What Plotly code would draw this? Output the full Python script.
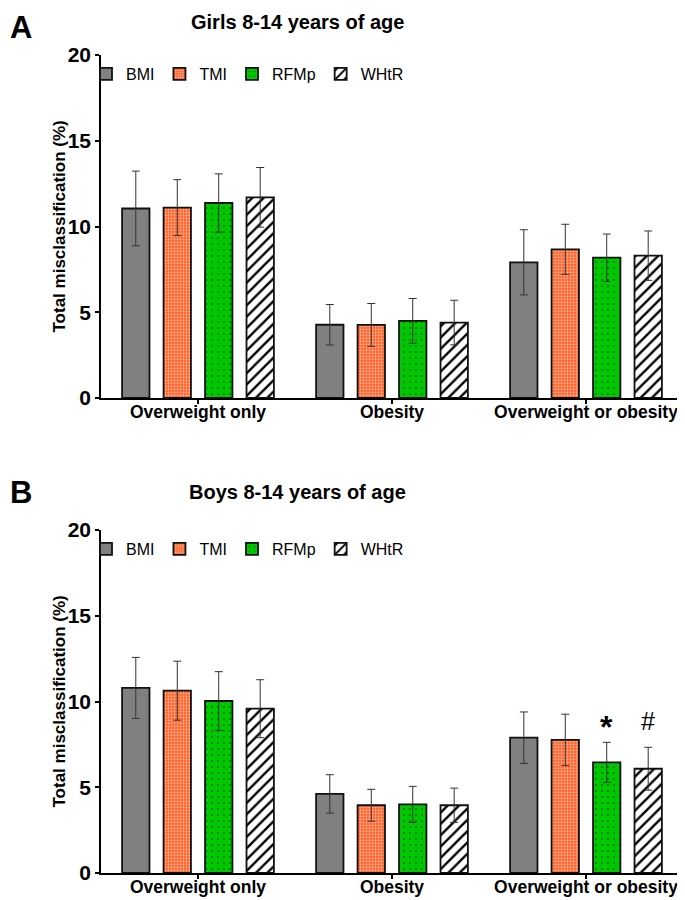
"""Grouped bar charts of total misclassification by index, girls and boys."""

import plotly.graph_objects as go
from plotly.subplots import make_subplots

CATEGORIES = ["Overweight only", "Obesity", "Overweight or obesity"]
SERIES = ["BMI", "TMI", "RFMp", "WHtR"]
Y_TICKS = [0, 5, 10, 15, 20]

# Girls 8-14 years of age
GIRLS_BMI = [11.05, 4.27, 7.91]
GIRLS_TMI = [11.10, 4.26, 8.67]
GIRLS_RFMP = [11.37, 4.50, 8.18]
GIRLS_WHTR = [11.70, 4.40, 8.30]
GIRLS_BMI_ERR = [2.18, 1.18, 1.90]
GIRLS_TMI_ERR = [1.63, 1.25, 1.46]
GIRLS_RFMP_ERR = [1.70, 1.30, 1.38]
GIRLS_WHTR_ERR = [1.74, 1.30, 1.44]

# Boys 8-14 years of age
BOYS_BMI = [10.79, 4.61, 7.89]
BOYS_TMI = [10.63, 3.95, 7.76]
BOYS_RFMP = [10.03, 4.00, 6.45]
BOYS_WHTR = [9.58, 3.95, 6.08]
BOYS_BMI_ERR = [1.78, 1.12, 1.50]
BOYS_TMI_ERR = [1.72, 0.93, 1.50]
BOYS_RFMP_ERR = [1.71, 1.05, 1.17]
BOYS_WHTR_ERR = [1.69, 1.00, 1.25]

FONT = "Liberation Sans, Arial, sans-serif"
OUTLINE = "#111111"

# page body keeps its default 8px margin, so the figure is 8px smaller
W, H, OFF = 677, 892, 8


def px_x(x):
    return max(0, (x - OFF) / W)


def px_y(y):
    return 1 - (y - OFF) / H


STYLES = {
    "BMI": {"color": "#808080", "pattern": {"shape": ""}},
    "TMI": {
        "color": "#ff5a1e",
        "pattern": {"shape": ".", "fgcolor": "white", "bgcolor": "#ff5a1e",
                    "size": 3, "solidity": 0.45},
    },
    "RFMp": {
        "color": "#00c800",
        "pattern": {"shape": ".", "fgcolor": "black", "bgcolor": "#00c800",
                    "size": 6, "solidity": 0.08},
    },
    "WHtR": {
        "color": "white",
        "pattern": {"shape": "/", "fgcolor": "black", "bgcolor": "white",
                    "size": 8, "solidity": 0.3, "fgopacity": 1},
    },
}

panels = [
    {
        "values": [GIRLS_BMI, GIRLS_TMI, GIRLS_RFMP, GIRLS_WHTR],
        "errors": [GIRLS_BMI_ERR, GIRLS_TMI_ERR, GIRLS_RFMP_ERR, GIRLS_WHTR_ERR],
        "legend": "legend",
    },
    {
        "values": [BOYS_BMI, BOYS_TMI, BOYS_RFMP, BOYS_WHTR],
        "errors": [BOYS_BMI_ERR, BOYS_TMI_ERR, BOYS_RFMP_ERR, BOYS_WHTR_ERR],
        "legend": "legend2",
    },
]

fig = make_subplots(rows=2, cols=1)

for row, panel in enumerate(panels, start=1):
    for name, vals, errs in zip(SERIES, panel["values"], panel["errors"]):
        style = STYLES[name]
        fig.add_trace(
            go.Bar(
                name=name,
                x=CATEGORIES,
                y=vals,
                marker={
                    "color": style["color"],
                    "pattern": style["pattern"],
                    "line": {"color": OUTLINE, "width": 1.8},
                },
                error_y={"type": "data", "array": errs, "color": "#333333",
                         "thickness": 1, "width": 4},
                legend=panel["legend"],
                showlegend=True,
            ),
            row=row,
            col=1,
        )

axis_common = {
    "showline": True,
    "linecolor": "black",
    "linewidth": 1.5,
    "ticks": "outside",
    "ticklen": 4,
    "tickwidth": 1.5,
    "tickcolor": "black",
    "showgrid": False,
    "zeroline": False,
    "automargin": False,
}

x_domain = [px_x(101), px_x(683)]
y_domains = [[px_y(398), px_y(55)], [px_y(873), px_y(530)]]

for row in (1, 2):
    fig.update_xaxes(
        domain=x_domain,
        range=[-0.5, 2.5],
        tickfont={"family": FONT, "size": 17.5, "weight": "bold", "color": "black"},
        ticklabelstandoff=-7,
        **axis_common,
        row=row,
        col=1,
    )
    fig.update_yaxes(
        domain=y_domains[row - 1],
        range=[0, 20],
        tickvals=Y_TICKS,
        tickfont={"family": FONT, "size": 21, "weight": "bold", "color": "black"},
        **axis_common,
        row=row,
        col=1,
    )

legend_common = {
    "orientation": "h",
    "xanchor": "left",
    "yanchor": "middle",
    "x": px_x(86),
    "font": {"family": FONT, "size": 16, "color": "black"},
    "bgcolor": "rgba(0,0,0,0)",
    "itemclick": False,
}

annotations = []
for text, y in [("Girls 8-14 years of age", px_y(22)), ("Boys 8-14 years of age", px_y(492))]:
    annotations.append(
        {"text": text, "x": px_x(297), "y": y, "xref": "paper", "yref": "paper",
         "showarrow": False, "xanchor": "center", "yanchor": "middle",
         "font": {"family": FONT, "size": 20, "weight": "bold", "color": "black"}}
    )
for text, y in [("A", px_y(27)), ("B", px_y(493))]:
    annotations.append(
        {"text": text, "x": 0, "y": y, "xref": "paper", "yref": "paper",
         "showarrow": False, "xanchor": "left", "yanchor": "middle",
         "font": {"family": FONT, "size": 31, "weight": "bold", "color": "black"}}
    )
for y_dom in y_domains:
    annotations.append(
        {"text": "Total misclassification (%)", "x": px_x(59),
         "y": (y_dom[0] + y_dom[1]) / 2, "xref": "paper", "yref": "paper",
         "showarrow": False, "textangle": -90, "xanchor": "center", "yanchor": "middle",
         "font": {"family": FONT, "size": 17, "weight": "bold", "color": "black"}}
    )

# significance marks above boys' "Overweight or obesity" RFMp and WHtR bars
annotations.append(
    {"text": "*", "x": CATEGORIES[2], "xshift": 20.5,
     "y": BOYS_RFMP[2] + BOYS_RFMP_ERR[2] + 0.9, "xref": "x2", "yref": "y2",
     "showarrow": False, "yanchor": "middle",
     "font": {"family": FONT, "size": 32, "weight": "bold", "color": "black"}}
)
annotations.append(
    {"text": "#", "x": CATEGORIES[2], "xshift": 62,
     "y": BOYS_WHTR[2] + BOYS_WHTR_ERR[2] + 1.55, "xref": "x2", "yref": "y2",
     "showarrow": False, "yanchor": "middle",
     "font": {"family": FONT, "size": 25, "color": "black"}}
)

fig.update_layout(
    width=W,
    height=H,
    margin={"l": 0, "r": 0, "t": 0, "b": 0},
    barmode="group",
    bargap=0.145,
    bargroupgap=0.34,
    plot_bgcolor="white",
    paper_bgcolor="white",
    font={"family": FONT, "color": "black"},
    legend={**legend_common, "y": px_y(74)},
    legend2={**legend_common, "y": px_y(549)},
    annotations=annotations,
)

fig.write_html("out.html")
